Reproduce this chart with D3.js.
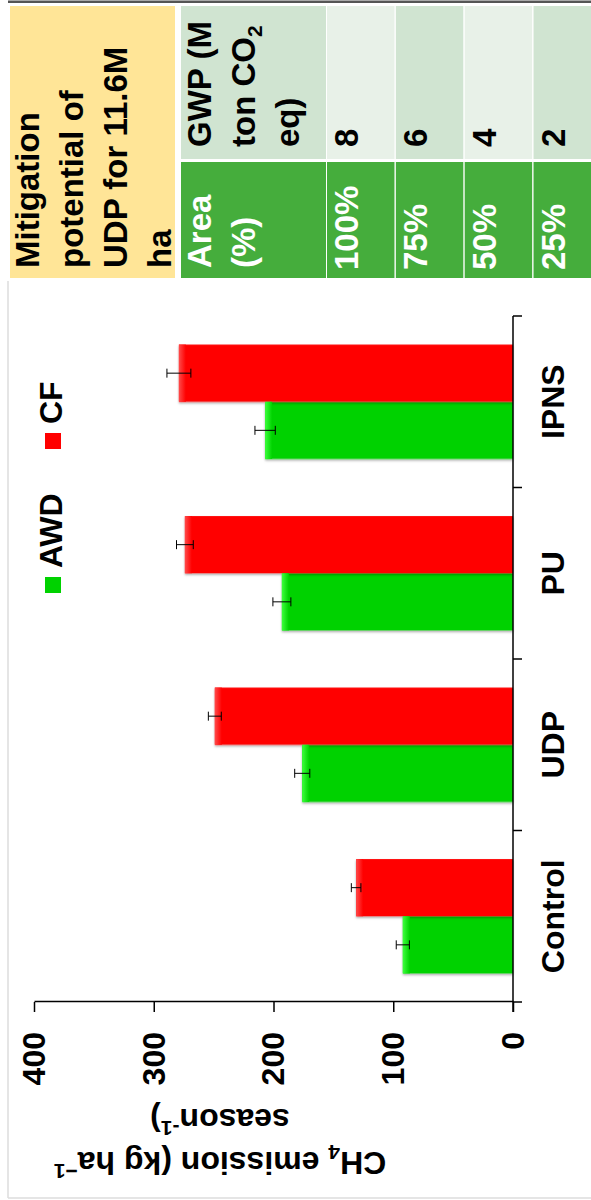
<!DOCTYPE html>
<html>
<head>
<meta charset="utf-8">
<script src="https://cdn.jsdelivr.net/npm/d3@7"></script>
<style>
  body { margin: 0; background: #fff; }
  svg { display: block; }
  text { font-family: "Liberation Sans", Arial, sans-serif; font-weight: bold; }
</style>
</head>
<body>
<div id="chart"></div>
<script>
const categories = ['Control', 'UDP', 'PU', 'IPNS'];
const series = ['AWD', 'CF'];
const awdValues = [92, 176, 193, 207];
const cfValues = [131, 249, 274, 279];
const awdErrors = [5.5, 6.3, 7.5, 8.5];
const cfErrors = [4, 5.4, 7, 10];
const valueTicks = [0, 100, 200, 300, 400];

const tableTitle = ['Mitigation', 'potential of', 'UDP for 11.6M', 'ha'];
const areaLabels = ['100%', '75%', '50%', '25%'];
const gwpValues = ['8', '6', '4', '2'];

const colors = { AWD: '#00d200', CF: '#ff0000' };
const tipColors = { AWD: '#3cff3c', CF: '#ff4a4a' };

// whole figure is drawn as a normal 1200x591 chart, then turned 90deg
const W = 1200, H = 591;

const svg = d3.select('#chart').append('svg')
  .attr('width', 591)
  .attr('height', 1200);

const defs = svg.append('defs');
const shadow = defs.append('filter').attr('id', 'shadow')
  .attr('x', '-10%').attr('y', '-10%').attr('width', '120%').attr('height', '120%');
shadow.append('feDropShadow')
  .attr('dx', -1.5).attr('dy', 0).attr('stdDeviation', 1)
  .attr('flood-color', '#000').attr('flood-opacity', 0.35);

series.forEach(s => {
  const grad = defs.append('linearGradient').attr('id', 'tip-' + s)
    .attr('x1', 0).attr('y1', 0).attr('x2', 0).attr('y2', 1);
  grad.append('stop').attr('offset', '0%').attr('stop-color', tipColors[s]);
  grad.append('stop').attr('offset', '100%').attr('stop-color', colors[s]);
});

const g = svg.append('g')
  .attr('transform', `translate(0,${W}) rotate(-90)`);

// frame
g.append('rect').attr('x', W - 3).attr('y', 8).attr('width', 2.5).attr('height', H).attr('fill', '#555');
g.append('line').attr('x1', W - 281).attr('x2', 2).attr('y1', 8).attr('y2', 8)
  .attr('stroke', '#ddd').attr('stroke-width', 1.5);
g.append('line').attr('x1', 2).attr('x2', 2).attr('y1', 8).attr('y2', H)
  .attr('stroke', '#ddd').attr('stroke-width', 1.5);

// ---------- table ----------
const table = g.append('g');
table.append('rect').attr('x', 922).attr('y', 10).attr('width', 272).attr('height', 165).attr('fill', '#ffe597');
table.selectAll('text.title').data(tableTitle).enter().append('text')
  .attr('class', 'title')
  .attr('x', 932)
  .attr('y', (d, i) => 39 + i * 44)
  .attr('font-size', 33)
  .attr('fill', '#000')
  .text(d => d);

const col = d3.scaleBand().domain(d3.range(gwpValues.length)).range([327, 601]).paddingInner(0.02);

// header cells
table.append('rect').attr('x', 1041).attr('y', 181).attr('width', 153).attr('height', 145).attr('fill', '#d0e4d1');
table.append('rect').attr('x', 922).attr('y', 181).attr('width', 116).attr('height', 145).attr('fill', '#45ad3c');

const gwpHead = table.append('text').attr('font-size', 33).attr('fill', '#000');
gwpHead.append('tspan').attr('x', 1053).attr('y', 211).text('GWP (M');
const l2 = gwpHead.append('tspan').attr('x', 1053).attr('y', 255).text('ton CO');
l2.append('tspan').attr('font-size', 21).attr('dy', 7).text('2');
gwpHead.append('tspan').attr('x', 1053).attr('y', 299).text('eq)');

const areaHead = table.append('text').attr('font-size', 33).attr('fill', '#fff');
areaHead.append('tspan').attr('x', 932).attr('y', 211).text('Area');
areaHead.append('tspan').attr('x', 932).attr('y', 255).text('(%)');

// value cells
table.selectAll('rect.gwp').data(gwpValues).enter().append('rect')
  .attr('class', 'gwp')
  .attr('x', 1041).attr('y', (d, i) => col(i))
  .attr('width', 153).attr('height', col.bandwidth())
  .attr('fill', (d, i) => i % 2 === 0 ? '#e8f1e8' : '#d0e4d1');
table.selectAll('text.gwp').data(gwpValues).enter().append('text')
  .attr('class', 'gwp')
  .attr('x', 1053).attr('y', (d, i) => col(i) + 31)
  .attr('font-size', 33).attr('fill', '#000')
  .text(d => d);

table.selectAll('rect.area').data(areaLabels).enter().append('rect')
  .attr('class', 'area')
  .attr('x', 922).attr('y', (d, i) => col(i))
  .attr('width', 116).attr('height', col.bandwidth())
  .attr('fill', '#45ad3c');
table.selectAll('text.area').data(areaLabels).enter().append('text')
  .attr('class', 'area')
  .attr('x', 930).attr('y', (d, i) => col(i) + 31)
  .attr('font-size', 33).attr('fill', '#fff')
  .text(d => d);

// ---------- bar chart ----------
const x0 = d3.scaleBand().domain(categories).range([198, 884]);
const x1 = d3.scaleBand().domain(series).range([0, x0.bandwidth()]).paddingOuter(0.5);
const y = d3.scaleLinear().domain([0, 400]).range([513, 34]);

const rows = categories.map((c, i) => ({
  cat: c,
  vals: [
    { key: 'AWD', v: awdValues[i], e: awdErrors[i] },
    { key: 'CF', v: cfValues[i], e: cfErrors[i] }
  ]
}));

const groups = g.selectAll('g.cat').data(rows).enter().append('g')
  .attr('class', 'cat')
  .attr('transform', d => `translate(${x0(d.cat)},0)`);

groups.selectAll('rect.bar').data(d => d.vals).enter().append('rect')
  .attr('class', 'bar')
  .attr('x', d => x1(d.key))
  .attr('y', d => y(d.v))
  .attr('width', x1.bandwidth())
  .attr('height', d => y(0) - y(d.v))
  .attr('fill', d => colors[d.key])
  .attr('filter', 'url(#shadow)');

// lighter tip at the end of each bar
groups.selectAll('rect.tip').data(d => d.vals).enter().append('rect')
  .attr('class', 'tip')
  .attr('x', d => x1(d.key))
  .attr('y', d => y(d.v))
  .attr('width', x1.bandwidth())
  .attr('height', 7)
  .attr('fill', d => `url(#tip-${d.key})`);

// error bars
const eb = groups.selectAll('g.err').data(d => d.vals).enter().append('g').attr('class', 'err')
  .attr('stroke', '#000').attr('stroke-width', 1);
eb.append('line')
  .attr('x1', d => x1(d.key) + x1.bandwidth() / 2).attr('x2', d => x1(d.key) + x1.bandwidth() / 2)
  .attr('y1', d => y(d.v - d.e)).attr('y2', d => y(d.v + d.e));
eb.append('line')
  .attr('x1', d => x1(d.key) + x1.bandwidth() / 2 - 4.5).attr('x2', d => x1(d.key) + x1.bandwidth() / 2 + 4.5)
  .attr('y1', d => y(d.v + d.e)).attr('y2', d => y(d.v + d.e));
eb.append('line')
  .attr('x1', d => x1(d.key) + x1.bandwidth() / 2 - 4.5).attr('x2', d => x1(d.key) + x1.bandwidth() / 2 + 4.5)
  .attr('y1', d => y(d.v - d.e)).attr('y2', d => y(d.v - d.e));

// value axis
const yAxis = g.append('g')
  .attr('transform', 'translate(198,0)')
  .call(d3.axisLeft(y).tickValues(valueTicks).tickSize(10).tickSizeOuter(0).tickPadding(20));
yAxis.select('.domain').attr('stroke', '#000').attr('stroke-width', 1.5);
yAxis.selectAll('.tick line').attr('stroke', '#000').attr('stroke-width', 1.5);
yAxis.selectAll('.tick text')
  .attr('font-size', 32).attr('font-family', '"Liberation Sans", Arial, sans-serif')
  .attr('font-weight', 'bold').attr('fill', '#000');

// category axis
const xAxis = g.append('g').attr('transform', 'translate(0,513)');
xAxis.append('line').attr('x1', 188).attr('x2', x0.range()[1])
  .attr('stroke', '#000').attr('stroke-width', 1.5);
const bounds = categories.map(c => x0(c)).concat([x0.range()[1]]);
xAxis.selectAll('line.tick').data(bounds).enter().append('line')
  .attr('class', 'tick')
  .attr('x1', d => d).attr('x2', d => d).attr('y1', 0).attr('y2', 9)
  .attr('stroke', '#000').attr('stroke-width', 1.5);
xAxis.selectAll('text').data(categories).enter().append('text')
  .attr('x', d => x0(d) + x0.bandwidth() / 2)
  .attr('y', 51)
  .attr('text-anchor', 'middle')
  .attr('font-size', 32).attr('fill', '#000')
  .text(d => d);

// axis title
const title = g.append('text')
  .attr('transform', 'translate(48,220) rotate(-90)')
  .attr('text-anchor', 'middle')
  .attr('font-size', 32).attr('fill', '#000');
title.append('tspan').text('CH');
title.append('tspan').attr('font-size', 21).attr('dy', 7).text('4');
title.append('tspan').attr('dy', -7).text(' emission (kg ha');
title.append('tspan').attr('font-size', 21).attr('dy', -12).text('\u22121');
const title2 = g.append('text')
  .attr('transform', 'translate(91,220) rotate(-90)')
  .attr('text-anchor', 'middle')
  .attr('font-size', 32).attr('fill', '#000');
title2.append('tspan').text('season');
title2.append('tspan').attr('font-size', 21).attr('dy', -12).text('-1');
title2.append('tspan').attr('dy', 12).text(')');

// legend
const legendX = [607, 751];
const legend = g.selectAll('g.legend').data(series).enter().append('g')
  .attr('class', 'legend')
  .attr('transform', (d, i) => `translate(${legendX[i]},0)`);
legend.append('rect').attr('x', 0).attr('y', 45).attr('width', 16).attr('height', 16)
  .attr('fill', d => colors[d]);
legend.append('text').attr('x', 25).attr('y', 62)
  .attr('font-size', 32).attr('fill', '#000')
  .text(d => d);
</script>
</body>
</html>
